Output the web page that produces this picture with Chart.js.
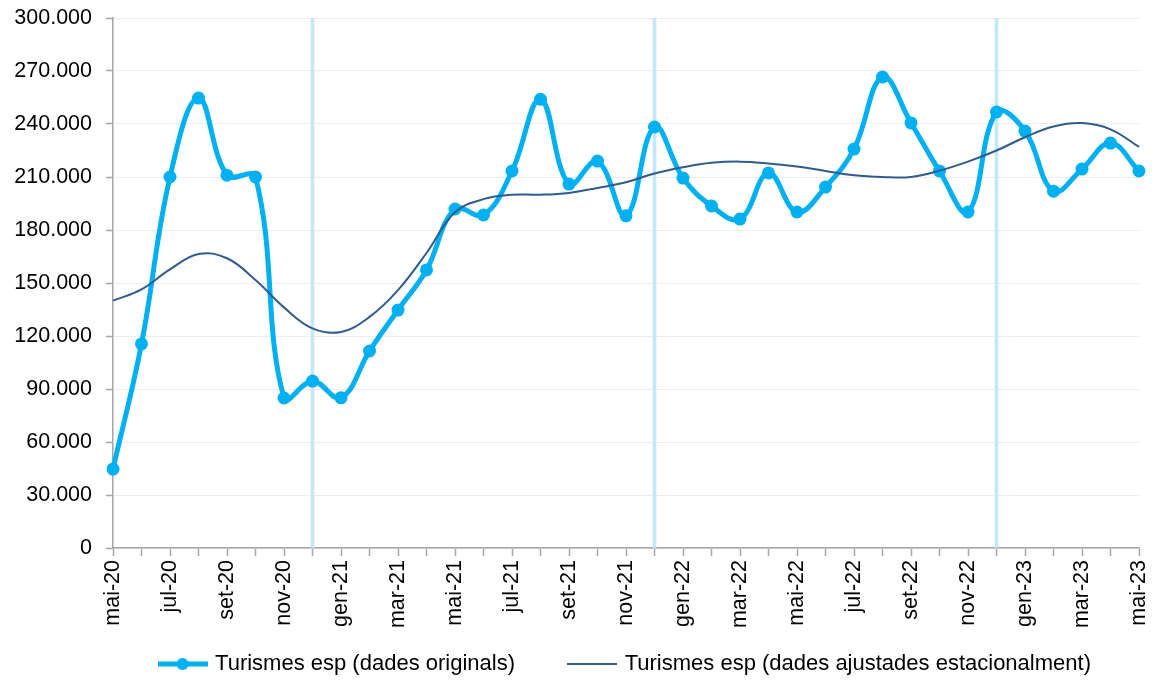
<!DOCTYPE html>
<html>
<head>
<meta charset="utf-8">
<script src="https://cdn.jsdelivr.net/npm/chart.js@4.4.0/dist/chart.umd.min.js"></script>
<style>
	html, body { margin: 0; padding: 0; background: #fff; }
	#wrap { width: 1162px; height: 682px; }
</style>
</head>
<body>
<div id="wrap"><canvas id="chart" width="1162" height="682"></canvas></div>
<script>
// --- Data ---
const months = [
	"mai-20", "jun-20", "jul-20", "ago-20", "set-20", "oct-20", "nov-20", "des-20",
	"gen-21", "feb-21", "mar-21", "abr-21", "mai-21", "jun-21", "jul-21", "ago-21", "set-21", "oct-21", "nov-21", "des-21",
	"gen-22", "feb-22", "mar-22", "abr-22", "mai-22", "jun-22", "jul-22", "ago-22", "set-22", "oct-22", "nov-22", "des-22",
	"gen-23", "feb-23", "mar-23", "abr-23", "mai-23",
];
const originals = [
	44700, 115500, 210000, 254700, 211000, 210000, 84900, 94500,
	85000, 111500, 134700, 157400, 191900, 188500, 213400, 254000, 206000, 219000, 188000, 238300,
	209400, 193600, 186200, 212300, 190200, 204300, 225800, 266600, 240600, 213400, 190200, 246800,
	236000, 202000, 214500, 229200, 213400,
];
const adjusted = [
	140000, 146400, 157700, 166400, 164000, 151700, 136200, 124300,
	122300, 130800, 146000, 167000, 190000, 197500, 200000, 200000, 201000, 203800, 207000, 212000,
	215500, 218000, 218700, 217700, 216000, 213400, 211000, 210000, 210000, 213600, 218700, 225000,
	232500, 238600, 240500, 237000, 227000,
];
const yearBreaks = ["des-20", "des-21", "des-22"];
const Y_MAX = 300000;
const Y_STEP = 30000;

const seriesNames = ["Turismes esp (dades originals)", "Turismes esp (dades ajustades estacionalment)"];

// --- Styles ---
const FONT = "'Liberation Sans', Arial, sans-serif";
const C_ORIG = "#00b0f0";
const C_ADJ = "#2f5b8f";
const C_AXIS = "#a6a6a6";

function thousands(v) {
	return String(v).replace(/\B(?=(\d{3})+(?!\d))/g, ".");
}

// legend marker: a line with (optionally) a dot in the middle
function legendMarker(color, lineWidth, dot) {
	const c = document.createElement("canvas");
	c.width = 50;
	c.height = 14;
	const g = c.getContext("2d");
	g.strokeStyle = color;
	g.lineWidth = lineWidth;
	g.beginPath();
	g.moveTo(0, 7);
	g.lineTo(50, 7);
	g.stroke();
	if (dot) {
		g.fillStyle = color;
		g.beginPath();
		g.arc(25, 7, 6, 0, Math.PI * 2);
		g.fill();
	}
	return c;
}
const markers = [legendMarker(C_ORIG, 5, true), legendMarker(C_ADJ, 2, false)];
const legendGap = ["\u00a0".repeat(6), ""]; // extra room after the first entry

new Chart(document.getElementById("chart"), {
	type: "line",
	data: {
		labels: months,
		datasets: [
			{
				label: seriesNames[0],
				data: originals,
				borderColor: C_ORIG,
				backgroundColor: C_ORIG,
				borderWidth: 5,
				tension: 0.4,
				pointRadius: 6.5,
				pointBackgroundColor: C_ORIG,
				pointBorderWidth: 0,
				order: 1,
			},
			{
				label: seriesNames[1],
				data: adjusted,
				borderColor: C_ADJ,
				backgroundColor: C_ADJ,
				borderWidth: 2,
				tension: 0.4,
				pointRadius: 0,
				order: 0,
			},
			{
				type: "bar",
				label: "breaks",
				data: months.map((m) => (yearBreaks.includes(m) ? Y_MAX : null)),
				backgroundColor: "#c4e8f8",
				barThickness: 3,
				order: 2,
			},
		],
	},
	options: {
		responsive: false,
		animation: false,
		layout: { padding: { top: 18, right: 23, left: 0, bottom: 0 } },
		plugins: {
			tooltip: { enabled: false },
			title: { display: false },
			legend: {
				position: "bottom",
				fullSize: false,
				maxHeight: 48,
				labels: {
					usePointStyle: true,
					pointStyleWidth: 43,
					padding: 19,
					color: "#000",
					font: { family: FONT, size: 22 },
					filter: (item) => item.datasetIndex < 2,
					sort: (a, b) => a.datasetIndex - b.datasetIndex,
					generateLabels: (chart) =>
						Chart.defaults.plugins.legend.labels.generateLabels(chart).map((item) => {
							if (item.datasetIndex < 2) {
								item.pointStyle = markers[item.datasetIndex];
								item.text = item.text + legendGap[item.datasetIndex];
							}
							item.rotation = 0;
							return item;
						}),
				},
			},
		},
		scales: {
			x: {
				offset: false,
				grid: { offset: false, drawOnChartArea: false, tickLength: 8, tickColor: C_AXIS, tickWidth: 1.5 },
				border: { color: C_AXIS, width: 1.5 },
				ticks: {
					autoSkip: false,
					minRotation: 90,
					maxRotation: 90,
					padding: 4,
					color: "#000",
					font: { family: FONT, size: 21.5 },
					callback: (v, i) => (i % 2 === 0 ? months[i] : ""),
				},
				afterFit: (scale) => {
					scale.height = 86;
					scale.paddingLeft = 0;
					scale.paddingRight = 0;
				},
			},
			y: {
				min: 0,
				max: Y_MAX,
				grid: { color: "#ececec", tickColor: C_AXIS, tickLength: 7, tickWidth: 1.5 },
				border: { color: C_AXIS, width: 1.5 },
				ticks: {
					stepSize: Y_STEP,
					padding: 14,
					color: "#000",
					font: { family: FONT, size: 21.5 },
					callback: (v) => thousands(v),
				},
				afterFit: (scale) => {
					scale.width = 113;
					scale.paddingTop = 10;
					scale.paddingBottom = 10;
				},
			},
		},
	},
});
</script>
</body>
</html>
